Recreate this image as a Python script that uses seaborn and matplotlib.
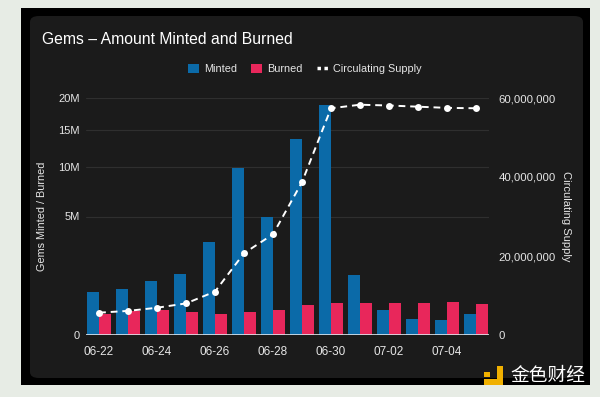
import numpy as np
import pandas as pd
import matplotlib
matplotlib.use("Agg")
import matplotlib.pyplot as plt
import seaborn as sns
from matplotlib.patches import Rectangle, FancyBboxPatch
from matplotlib.lines import Line2D

# 資料
dates = ["06-22", "06-23", "06-24", "06-25", "06-26", "06-27", "06-28",
         "06-29", "06-30", "07-01", "07-02", "07-03", "07-04", "07-05"]
minted = [0.67e6, 0.75e6, 1.04e6, 1.31e6, 3.06e6, 9.95e6, 4.96e6,
          13.7e6, 18.8e6, 1.28e6, 0.23e6, 0.095e6, 0.077e6, 0.15e6]
burned = [0.15e6, 0.21e6, 0.23e6, 0.19e6, 0.16e6, 0.19e6, 0.22e6,
          0.31e6, 0.36e6, 0.37e6, 0.37e6, 0.37e6, 0.39e6, 0.34e6]
supply = [5.65e6, 6.1e6, 6.9e6, 8.0e6, 11.0e6, 20.7e6, 25.5e6,
          38.7e6, 57.4e6, 58.3e6, 58.1e6, 57.8e6, 57.5e6, 57.4e6]
tick_labels = ["06-22", "06-24", "06-26", "06-28", "06-30", "07-02", "07-04"]

BLUE = "#0b6aa8"
RED = "#e8275b"
PANEL = "#1b1b1b"
TXT = "#e6e6e6"

sns.set_style("dark")
plt.rcParams["font.family"] = ["Liberation Sans", "Noto Sans CJK SC", "DejaVu Sans"]

W, H = 600, 397
fig = plt.figure(figsize=(6, 3.97), dpi=100)
fig.patch.set_facecolor("#e7ece5")


def px(x, y):
    return x / W, 1 - y / H


# 外框與面板 (放在座標軸下面)
x0, y0 = px(21, 385)
fig.patches.append(Rectangle((x0, y0), 569 / W, 377 / H, transform=fig.transFigure,
                             facecolor="black", edgecolor="none", zorder=-2))
x0, y0 = px(30, 378)
fig.patches.append(FancyBboxPatch((x0, y0), 553 / W, 362 / H, transform=fig.transFigure,
                                  boxstyle="round,pad=0,rounding_size=0.015",
                                  facecolor=PANEL, edgecolor="none", zorder=-1))

l, b = px(86, 335)
ax = fig.add_axes([l, b, 403 / W, 237 / H])
ax.set_facecolor(PANEL)

df = pd.DataFrame({
    "date": dates * 2,
    "value": minted + burned,
    "kind": ["Minted"] * len(dates) + ["Burned"] * len(dates),
})
sns.barplot(data=df, x="date", y="value", hue="kind", ax=ax,
            palette={"Minted": BLUE, "Burned": RED}, width=0.8,
            saturation=1, legend=False, edgecolor="none", linewidth=0, zorder=2)

ax.set_yscale("function", functions=(lambda v: np.sqrt(np.clip(v, 0, None)), np.square))
ax.set_ylim(0, 20e6)
ax.set_xlim(-0.45, len(dates) - 0.55)
ax.set_yticks([0, 5e6, 10e6, 15e6, 20e6])
ax.set_yticklabels(["0", "5M", "10M", "15M", "20M"])
ax.set_xticks([dates.index(t) for t in tick_labels])
ax.set_xticklabels(tick_labels)
ax.grid(axis="y", color="#2f2f2f", linewidth=0.8, zorder=0)
ax.grid(axis="x", visible=False)
for s in ax.spines.values():
    s.set_visible(False)
ax.axhline(0, color="#dfe6ee", linewidth=1.2, zorder=3)
ax.tick_params(axis="y", colors=TXT, labelsize=8, length=0, pad=4.5)
ax.tick_params(axis="x", colors=TXT, labelsize=8.5, length=0, pad=8)
ax.set_xlabel("")
ax.set_ylabel("Gems Minted / Burned", color=TXT, fontsize=7.8)
ax.yaxis.set_label_coords((47 - 86) / 403, 0.5)

ax2 = ax.twinx()
sns.lineplot(x=np.arange(len(dates)), y=supply, ax=ax2, color="white",
             linestyle=(0, (3.5, 2.5)), linewidth=1.4, marker="o",
             markersize=5, markeredgewidth=0, zorder=4)
ax2.set_ylim(0, 60e6)
ax2.set_yticks([0, 20e6, 40e6, 60e6])
ax2.set_yticklabels(["0", "20,000,000", "40,000,000", "60,000,000"])
ax2.grid(False)
for s in ax2.spines.values():
    s.set_visible(False)
ax2.tick_params(axis="y", colors=TXT, labelsize=8.2, length=0, pad=7)
ax2.set_ylabel("Circulating Supply", color=TXT, fontsize=8, rotation=-90, va="center")
ax2.yaxis.set_label_coords((566 - 86) / 403, 0.5)

# 標題與圖例
tx, ty = px(42, 40)
fig.text(tx, ty, "Gems – Amount Minted and Burned", color="white", fontsize=11.3,
         va="center", ha="left")

handles = [
    Rectangle((0, 0), 1, 1, facecolor=BLUE, edgecolor="none"),
    Rectangle((0, 0), 1, 1, facecolor=RED, edgecolor="none"),
    Line2D([0], [0], color="white", linewidth=2.5, linestyle=(0, (1, 1))),
]
lx, ly = px(305, 69)
fig.legend(handles, ["Minted", "Burned", "Circulating Supply"], loc="center",
           bbox_to_anchor=(lx, ly), ncol=3, frameon=False, fontsize=7.8,
           labelcolor=TXT, handlelength=1.0, handleheight=1.0,
           handletextpad=0.5, columnspacing=1.3)

# 浮水印
wx, wy = px(510, 375)
fig.text(wx, wy, "金色财经", color="white", fontsize=13.5, va="center", ha="left",
         family=["Noto Sans CJK SC", "DejaVu Sans"])
gx, gy = px(497, 383)
fig.patches.append(Rectangle((gx, gy), 6 / W, 17 / H, transform=fig.transFigure,
                             facecolor="#f0b000", edgecolor="none", zorder=3))
gx, gy = px(484, 385)
fig.patches.append(Rectangle((gx, gy), 19 / W, 6 / H, transform=fig.transFigure,
                             facecolor="#f0b000", edgecolor="none", zorder=3))
gx, gy = px(484, 377)
fig.patches.append(Rectangle((gx, gy), 6 / W, 5 / H, transform=fig.transFigure,
                             facecolor="#f0b000", edgecolor="none", zorder=3))

fig.savefig("out.png", dpi=100, facecolor=fig.get_facecolor())
